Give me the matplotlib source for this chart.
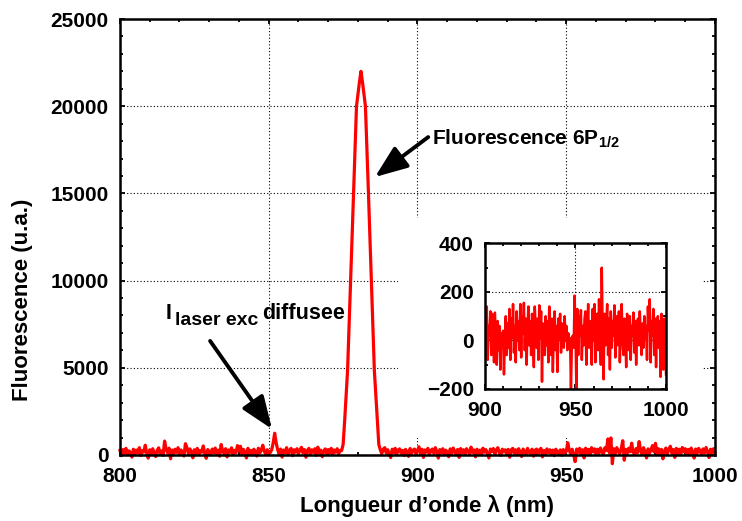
import numpy as np
import matplotlib
matplotlib.use('Agg')
import matplotlib.pyplot as plt
from matplotlib.patches import Rectangle
from matplotlib.ticker import MultipleLocator

plt.rcParams['font.family'] = ['Liberation Sans', 'DejaVu Sans']
plt.rcParams['font.weight'] = 'bold'
plt.rcParams['mathtext.fontset'] = 'custom'
plt.rcParams['mathtext.rm'] = 'Liberation Sans:bold'
plt.rcParams['mathtext.it'] = 'Liberation Sans:bold'
plt.rcParams['mathtext.bf'] = 'Liberation Sans:bold'
plt.rcParams['mathtext.default'] = 'rm'

# spectre complet, pas de 0.5 nm de 800 a 1000 nm
wl_start = 800.0
wl_step = 0.5
fluo = [
    260, -40, 310, 90, 380, 20, 240, 150, -120, 330, 60, 280, 110, 420, -30, 250, 170, 560, 90, -180,
    300, 40, 360, 130, -90, 270, 410, 60, 230, -20, 800, 340, 120, 390, -220, 280, 60, 330, 150, 420,
    30, 290, 180, -60, 650, 430, 70, 350, 210, -160, 300, 100, 380, 40, 260, 160, 520, 90, -190, 310,
    200, 20, 340, 120, 400, 50, 280, -70, 600, 240, 80, 360, -110, 290, 150, 410, 30, 270, 130, 540,
    230, 500, 60, 320, 170, -170, 380, 90, 260, 10, 330, 160, -60, 390, 120, 280, 560, 210, 40, 300,
    90, 140, 300, 700, 1250, 700, 300, 60, 340, -120, 280, 130, 420, 40, 250, 380, -40, 300, 160, 360,
    70, 290, 440, 120, 310, -130, 260, 380, 60, 300, 150, 360, -20, 450, 110, 280, -100, 230, 350, 80,
    310, 120, 380, 40, 290, 160, 360, 70, 260, 250, 600, 1900, 3420, 4850, 7400, 9900, 12500, 15100, 17600, 20000,
    20700, 21400, 22000, 21400, 20700, 20000, 17600, 15100, 12500, 9900, 7400, 4850, 3420, 1900, 600, 300, 80, 340, 420, 110,
    300, 60, -150, 330, 140, 380, 20, 290, 350, 100, 260, -20, 320, 180, -80, 370, 90, 280, 340, 40,
    250, 470, 70, 330, -140, 290, 160, 380, 30, 260, 340, 90, 420, 200, -180, 310, 120, 360, 50, 280,
    170, -100, 350, 80, 400, 220, 20, 320, -140, 370, 110, 300, 40, 360, 200, 60, 450, 150, 290, -110,
    330, 90, 280, 20, 390, 160, 310, 70, -170, 340, 200, 370, 50, 290, 420, 130, -20, 330, 180, 300,
    60, 320, -130, 290, 380, 100, 300, 30, 360, 170, -90, 340, 200, 40, 380, 150, 80, 330, -70, 260,
    340, 50, 300, 380, -110, 260, 60, 350, 140, 300, 20, 280, -40, 330, 150, 60, 290, -20, 310, 120,
    200, 700, 280, 60, 330, 20, -380, 340, 150, 380, 40, 300, -170, 390, 120, 320, 30, 420, 180, 350,
    60, 330, 100, 400, 190, 30, 420, 260, 920, 120, 980, -500, 360, 80, 420, 200, 70, 380, 820, -300,
    320, 90, 390, 190, 680, 160, 20, 370, 130, 770, 260, 50, 420, 140, -170, 350, 100, 310, 540, 180,
    670, 90, 360, 40, 320, -220, 230, 400, 70, 340, 500, 110, 310, -140, 380, 90, 330, 50, 430, 190,
    360, 80, 320, 30, 400, 160, -180, 340, 90, 380, 220, 40, 350, 120, 430, 170, -150, 330, 80, 360,
    180,
]

# zoom du fond entre 900 et 1000 nm
zoom_start = 900.0
fluo_zoom = [
    -30, 100, 140, -80, 60, 20, 120, -60, 110, 40, -90, 115, 10, -100, 80, -40, 60, -120, 30, -20,
    40, -140, 20, 100, -60, 70, -30, 130, -80, 90, 10, 150, -50, 60, -90, 120, 0, 80, -40, 150,
    -70, 100, 30, 155, -40, 90, -100, 60, 140, -20, 80, -60, 110, 20, -110, 140, 50, -30, 90, -80,
    145, 10, 120, -170, 70, 30, -60, 100, -20, 80, -90, 140, 20, -60, 90, -130, 40, 120, -40, 60,
    -130, 90, 10, 110, -50, 70, 20, -30, 100, 0, 60, -40, 30, -20, 10, -200, -10, 20, -30, 185,
    40, -200, 130, -60, 100, 20, 125, -80, 60, -20, 90, 120, -100, 40, 150, -30, 80, 10, -100, 130,
    0, 150, -90, 60, 110, -40, 170, 20, -100, 300, 40, -160, 110, -20, 60, 150, -60, 90, -120, 120,
    -30, 80, 20, 145, -70, 100, -20, 60, 120, -90, 40, 150, 0, -60, 90, 30, -110, 110, 50, -40,
    100, -80, 60, 20, 115, -50, 80, -100, 40, 90, -20, 120, 30, -60, 70, -30, 100, 10, 60, -80,
    140, 40, 170, -90, 80, 20, 130, -60, 90, -110, 60, 100, -30, 80, -150, 110, 20, -120, 90, 70,
    -140,
]

wl = wl_start + wl_step * np.arange(len(fluo))
wl_zoom = zoom_start + wl_step * np.arange(len(fluo_zoom))

fig = plt.figure(figsize=(7.42, 5.21), dpi=100)
ax = fig.add_axes([0.1617, 0.1267, 0.8019, 0.8368])

grid_kw = dict(color='black', linestyle=(0, (1, 2)), linewidth=0.8)

def style_axes(a):
    for s in a.spines.values():
        s.set_linewidth(1.8)
    a.tick_params(which='both', direction='in', top=True, right=True,
                  width=1.3, labelsize=15)
    a.tick_params(axis='x', pad=9)
    a.tick_params(axis='y', pad=8)
    a.tick_params(which='major', length=3.5)
    a.tick_params(which='minor', length=2)
    a.grid(True, which='major', **grid_kw)
    for lab in a.get_xticklabels() + a.get_yticklabels():
        lab.set_fontweight('bold')

ax.plot(wl, fluo, color='red', lw=2.3, clip_on=False, zorder=2)
ax.set_xlim(800, 1000)
ax.set_ylim(0, 25000)
ax.xaxis.set_major_locator(MultipleLocator(50))
ax.xaxis.set_minor_locator(MultipleLocator(10))
ax.yaxis.set_major_locator(MultipleLocator(5000))
ax.yaxis.set_minor_locator(MultipleLocator(1000))
style_axes(ax)
ax.set_xlabel("Longueur d\u2019onde \u03bb (nm)", fontsize=16, fontweight='bold')
ax.set_ylabel("Fluorescence (u.a.)", fontsize=16, fontweight='bold')
ax.xaxis.set_label_coords(0.516, -0.0915)
ax.yaxis.set_label_coords(-0.147, 0.355)

# fond blanc sous l'encart (cache la grille)
ax.add_patch(Rectangle((0.5364, 0.1593), 0.411, 0.4223, transform=fig.transFigure,
                       facecolor='white', edgecolor='none', zorder=1.7))

arrow_kw = dict(arrowstyle='-|>,head_length=0.9,head_width=0.35', color='black',
                lw=2.8, shrinkA=0, shrinkB=0, mutation_scale=22)
ax.annotate('', xy=(885.7, 15940), xytext=(903.6, 18230), arrowprops=arrow_kw)
ax.annotate('', xy=(851.1, 1490), xytext=(830.3, 6540), arrowprops=arrow_kw)
ax.text(904.9, 18100, r'Fluorescence 6P$_{1/2}$', fontsize=15, fontweight='bold',
        ha='left', va='center')
ax.text(815.4, 7800, 'I', fontsize=15.5, fontweight='bold', ha='left', va='baseline')
ax.text(818.6, 7450, 'laser exc', fontsize=14, fontweight='bold', ha='left', va='baseline')
ax.text(847.7, 7800, 'diffusee', fontsize=15.5, fontweight='bold', ha='left', va='baseline')

# encart
axin = fig.add_axes([0.6536, 0.2534, 0.244, 0.2793])
axin.plot(wl_zoom, fluo_zoom, color='red', lw=1.8)
axin.set_xlim(900, 1000)
axin.set_ylim(-200, 400)
axin.xaxis.set_major_locator(MultipleLocator(50))
axin.xaxis.set_minor_locator(MultipleLocator(10))
axin.yaxis.set_major_locator(MultipleLocator(200))
axin.yaxis.set_minor_locator(MultipleLocator(100))
style_axes(axin)

fig.savefig('out.png', dpi=100)
